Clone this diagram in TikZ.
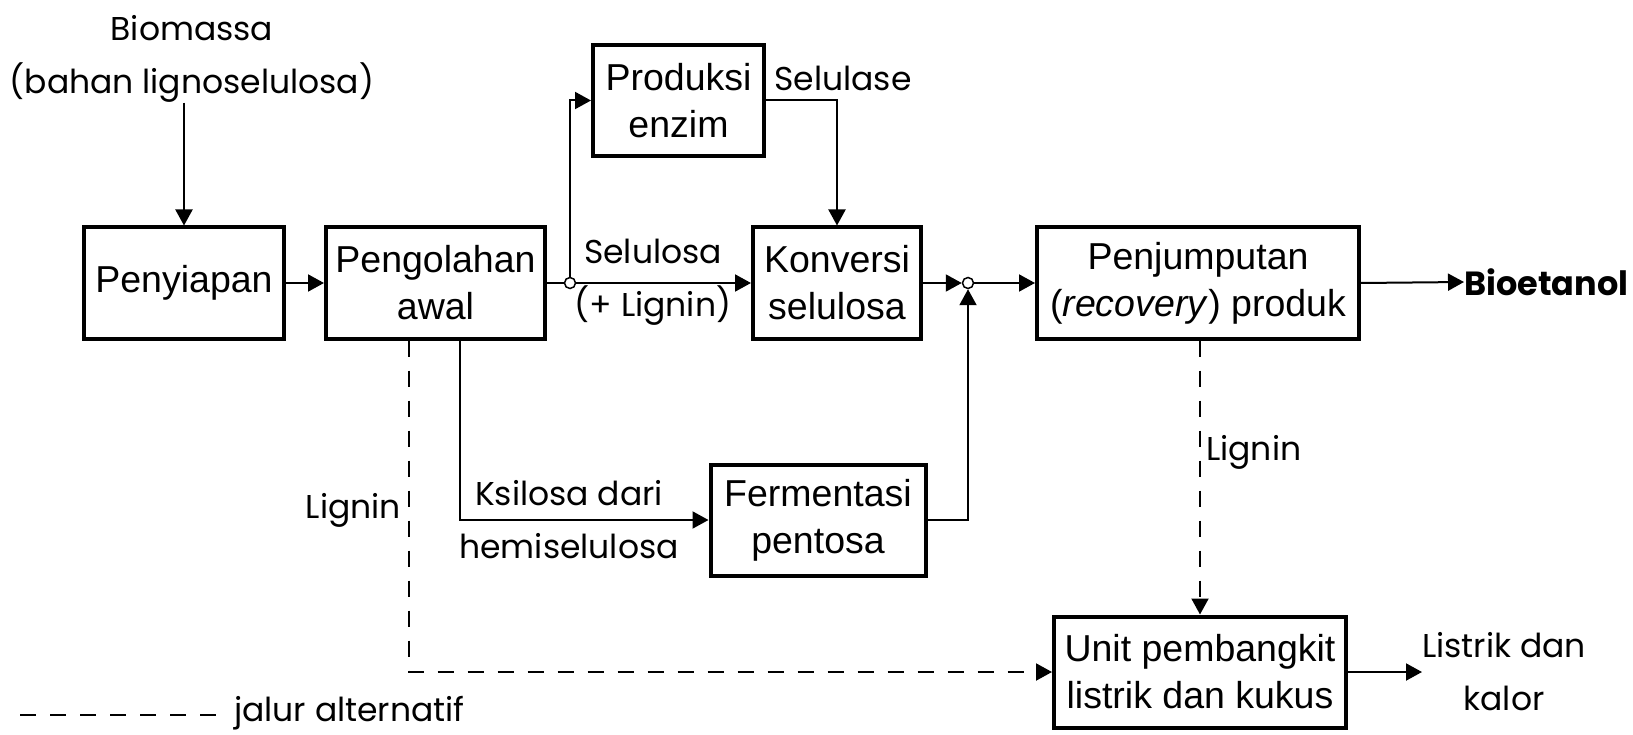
\documentclass[tikz,border=0pt]{standalone}
\usepackage{fontspec}
\setmainfont{Liberation Sans}
\newfontfamily\lblfont{Poppins}
\usetikzlibrary{arrows.meta}

\begin{document}
\begin{tikzpicture}[x=1pt,y=-1pt,
  box/.style={draw, line width=4pt, minimum height=111pt, inner sep=0pt,
    align=center, font=\fontsize{37.5}{47}\selectfont},
  lbl/.style={inner sep=0pt, align=center, font=\lblfont\fontsize{33}{53}\selectfont},
  flow/.style={line width=2pt, -{Triangle[length=16pt,width=17pt]}},
  line/.style={line width=2pt},
  alt/.style={line width=2pt, dash pattern=on 16pt off 14pt},
  junction/.style={circle, draw, fill=white, line width=1.5pt, minimum size=11pt, inner sep=0pt}
]
\useasboundingbox (0,0) rectangle (1633,735);

% process blocks
\node[box, minimum width=200pt] (prep) at (184,283) {Penyiapan};
\node[box, minimum width=219pt] (pre) at (435.5,283) {Pengolahan\\awal};
\node[box, minimum width=171pt] (enz) at (678.5,100.5) {Produksi\\enzim};
\node[box, minimum width=168pt] (conv) at (837,283) {Konversi\\selulosa};
\node[box, minimum width=322pt] (rec) at (1198,283) {Penjumputan\\(\textit{recovery}) produk};
\node[box, minimum width=215pt] (ferm) at (818,520) {Fermentasi\\pentosa};
\node[box, minimum width=292pt] (unit) at (1200,672) {Unit pembangkit\\listrik dan kukus};

% junction points
\node[junction] (j1) at (570,283) {};
\node[junction] (j2) at (968,283) {};

% feed, products and stream labels
\node[lbl] (bio) at (192,59) {Biomassa\\(bahan lignoselulosa)};
\node[lbl, anchor=west, font=\lblfont\bfseries\fontsize{33.5}{38}\selectfont] (etoh) at (1464,282) {Bioetanol};
\node[lbl, anchor=west] (power) at (1422,672) {Listrik dan\\kalor};
\node[lbl] (cel) at (653,282) {Selulosa\\(+ Lignin)};
\node[lbl] (enzlbl) at (843,78) {Selulase};
\node[lbl] (xyl) at (569,520) {Ksilosa dari\\hemiselulosa};
\node[lbl, anchor=east] (lig1) at (401,510) {Lignin};
\node[lbl, anchor=west] (lig2) at (1206,452) {Lignin};

% main line
\draw[flow] (bio.south -| prep.north) -- (prep.north);
\draw[flow] (prep.east) -- (pre.west);
\draw[line] (pre.east) -- (j1);
\draw[flow] (j1) -- (conv.west);
\draw[flow] (j1) |- (enz.west);
\draw[flow] (enz.east) -| (conv.north);
\draw[flow] (conv.east) -- (j2);
\draw[flow] (j2) -- (rec.west);
\draw[flow] (rec.east) -- (etoh.west);
\draw[flow] ([xshift=24.5pt]pre.south) |- (ferm.west);
\draw[flow] (ferm.east) -| (j2);
\draw[flow] (unit.east) -- (power.west);

% alternative lignin routes
\draw[alt, -{Triangle[length=16pt,width=17pt]}] ([xshift=-26.5pt]pre.south) |- (unit.west);
\draw[alt, -{Triangle[length=16pt,width=17pt]}] (rec.south -| unit.north) -- (unit.north);

% legend
\coordinate (lg1) at (20,715);
\coordinate (lg2) at (222,715);
\draw[alt] (lg1) -- (lg2);
\node[lbl, anchor=west] (lgtxt) at (234,713) {jalur alternatif};
\end{tikzpicture}
\end{document}
